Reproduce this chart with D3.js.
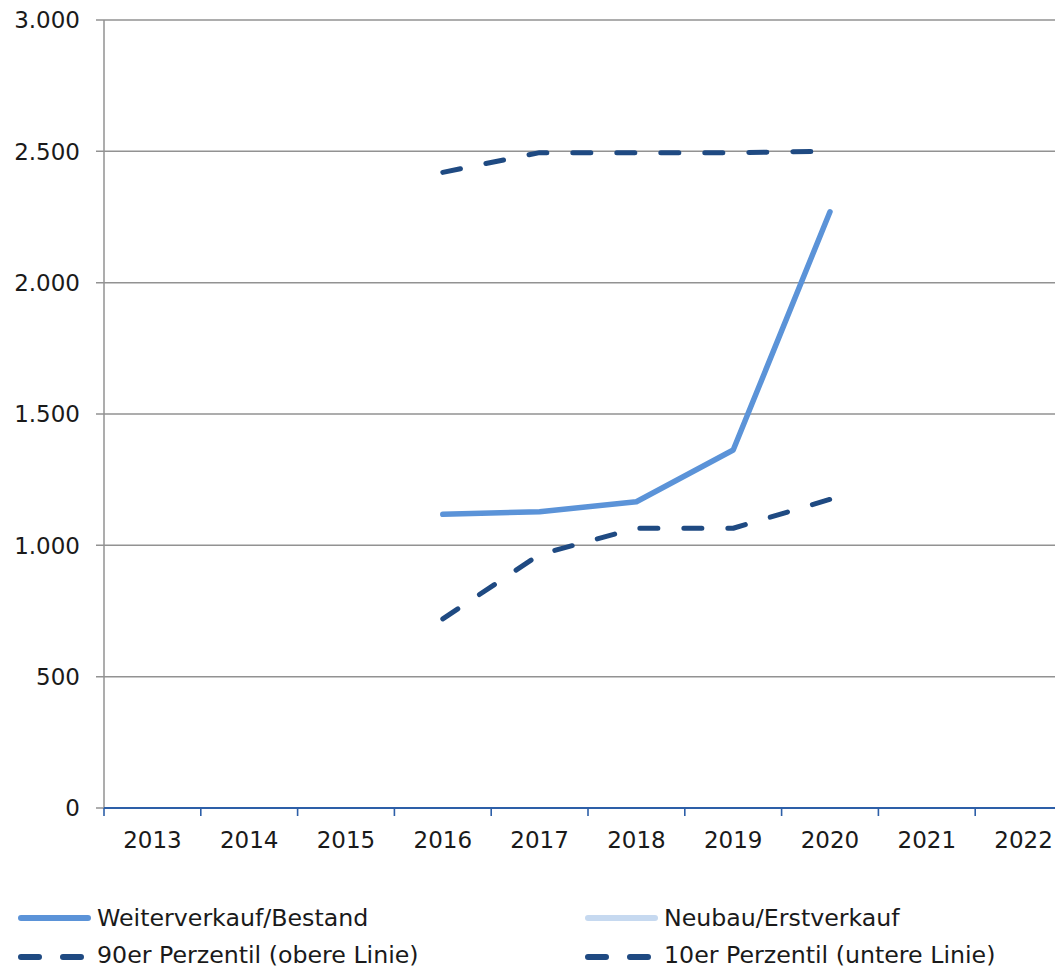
<!DOCTYPE html>
<html>
<head>
<meta charset="utf-8">
<script src="https://cdn.jsdelivr.net/npm/d3@7"></script>
<style>
  html, body { margin: 0; padding: 0; background: #fff; }
  svg { display: block; font-family: "DejaVu Sans", sans-serif; }
</style>
</head>
<body>
<svg id="chart" width="1055" height="968"></svg>
<script>
// Years on the category axis
const years = ["2013", "2014", "2015", "2016", "2017", "2018", "2019", "2020", "2021", "2022"];

// Series values (null = no data for that year)
const weiterverkauf = [null, null, null, 1118, 1128, 1166, 1363, 2270, null, null];
const neubau        = [null, null, null, null, null, null, null, null, null, null];
const perzentil90   = [null, null, null, 2420, 2495, 2495, 2495, 2500, null, null];
const perzentil10   = [null, null, null, 720, 965, 1065, 1065, 1175, null, null];

// Y axis tick values and their labels
const yTicks = [0, 500, 1000, 1500, 2000, 2500, 3000];
const yTickLabels = ["0", "500", "1.000", "1.500", "2.000", "2.500", "3.000"];

// Legend entries
const legendLabels = ["Weiterverkauf/Bestand", "Neubau/Erstverkauf", "90er Perzentil (obere Linie)", "10er Perzentil (untere Linie)"];

const colors = {
  weiter: "#5b93d8",
  neubau: "#c6d9f0",
  perz: "#1f4a82",
  grid: "#929292",
  axis: "#2d5fa8",
  text: "#1a1a1a"
};

const svg = d3.select("#chart");
const plotLeft = 104, plotRight = 1072, plotTop = 20, plotBottom = 808;

const x = d3.scaleBand().domain(years).range([plotLeft, plotRight]).padding(0);
const y = d3.scaleLinear().domain([0, 3000]).range([plotBottom, plotTop]);

// Horizontal gridlines with short outward ticks
svg.append("g")
  .selectAll("line")
  .data(yTicks.filter(v => v > 0))
  .join("line")
  .attr("x1", plotLeft - 8)
  .attr("x2", plotRight)
  .attr("y1", d => y(d))
  .attr("y2", d => y(d))
  .attr("stroke", colors.grid)
  .attr("stroke-width", 1.5);

// Vertical value axis line
svg.append("line")
  .attr("x1", plotLeft).attr("x2", plotLeft)
  .attr("y1", y(3000)).attr("y2", y(0))
  .attr("stroke", colors.grid)
  .attr("stroke-width", 1.5);

// Tick at zero on the value axis
svg.append("line")
  .attr("x1", plotLeft - 8).attr("x2", plotLeft)
  .attr("y1", y(0)).attr("y2", y(0))
  .attr("stroke", colors.grid)
  .attr("stroke-width", 1.5);

// Value axis labels
svg.append("g")
  .selectAll("text")
  .data(yTicks)
  .join("text")
  .attr("x", 80)
  .attr("y", d => y(d))
  .attr("dy", "0.36em")
  .attr("text-anchor", "end")
  .attr("font-size", 23)
  .attr("fill", colors.text)
  .text((d, i) => yTickLabels[i]);

// Category axis: baseline, boundary ticks and centred labels
const xAxisG = svg.append("g");
xAxisG.append("line")
  .attr("x1", plotLeft).attr("x2", plotRight)
  .attr("y1", y(0)).attr("y2", y(0))
  .attr("stroke", colors.axis)
  .attr("stroke-width", 2);

const boundaries = years.map(d => x(d)).concat([x(years[years.length - 1]) + x.bandwidth()]);
xAxisG.selectAll("line.tick")
  .data(boundaries)
  .join("line")
  .attr("class", "tick")
  .attr("x1", d => d).attr("x2", d => d)
  .attr("y1", y(0)).attr("y2", y(0) + 8)
  .attr("stroke", colors.axis)
  .attr("stroke-width", 1.6);

xAxisG.selectAll("text")
  .data(years)
  .join("text")
  .attr("x", d => x(d) + x.bandwidth() / 2)
  .attr("y", 848)
  .attr("text-anchor", "middle")
  .attr("font-size", 23)
  .attr("fill", colors.text)
  .text(d => d);

// Series lines
const lineGen = d3.line()
  .defined(d => d.v != null)
  .x(d => x(d.year) + x.bandwidth() / 2)
  .y(d => y(d.v));

const toPoints = arr => years.map((yr, i) => ({ year: yr, v: arr[i] }));

const series = [
  { data: neubau, color: colors.neubau, dash: null, width: 5.5 },
  { data: weiterverkauf, color: colors.weiter, dash: null, width: 5.5 },
  { data: perzentil90, color: colors.perz, dash: "18 26", width: 5 },
  { data: perzentil10, color: colors.perz, dash: "18 26", width: 5 }
];

svg.append("g")
  .selectAll("path")
  .data(series)
  .join("path")
  .attr("d", s => lineGen(toPoints(s.data)))
  .attr("fill", "none")
  .attr("stroke", s => s.color)
  .attr("stroke-width", s => s.width)
  .attr("stroke-linecap", "round")
  .attr("stroke-linejoin", "round")
  .attr("stroke-dasharray", s => s.dash);

// Legend
const legendItems = [
  { label: legendLabels[0], color: colors.weiter, dash: null, x: 21, y: 918, tx: 97, ty: 926 },
  { label: legendLabels[1], color: colors.neubau, dash: null, x: 588, y: 918, tx: 664, ty: 926 },
  { label: legendLabels[2], color: colors.perz, dash: "18 24", x: 21, y: 957, tx: 97, ty: 963 },
  { label: legendLabels[3], color: colors.perz, dash: "18 24", x: 588, y: 957, tx: 664, ty: 963 }
];

const lg = svg.append("g")
  .selectAll("g")
  .data(legendItems)
  .join("g");

lg.append("line")
  .attr("x1", d => d.x)
  .attr("x2", d => d.x + (d.dash ? 60 : 67))
  .attr("y1", d => d.y)
  .attr("y2", d => d.y)
  .attr("stroke", d => d.color)
  .attr("stroke-width", 6)
  .attr("stroke-linecap", "round")
  .attr("stroke-dasharray", d => d.dash);

lg.append("text")
  .attr("x", d => d.tx)
  .attr("y", d => d.ty)
  .attr("font-size", 23.7)
  .attr("fill", colors.text)
  .text(d => d.label);
</script>
</body>
</html>
